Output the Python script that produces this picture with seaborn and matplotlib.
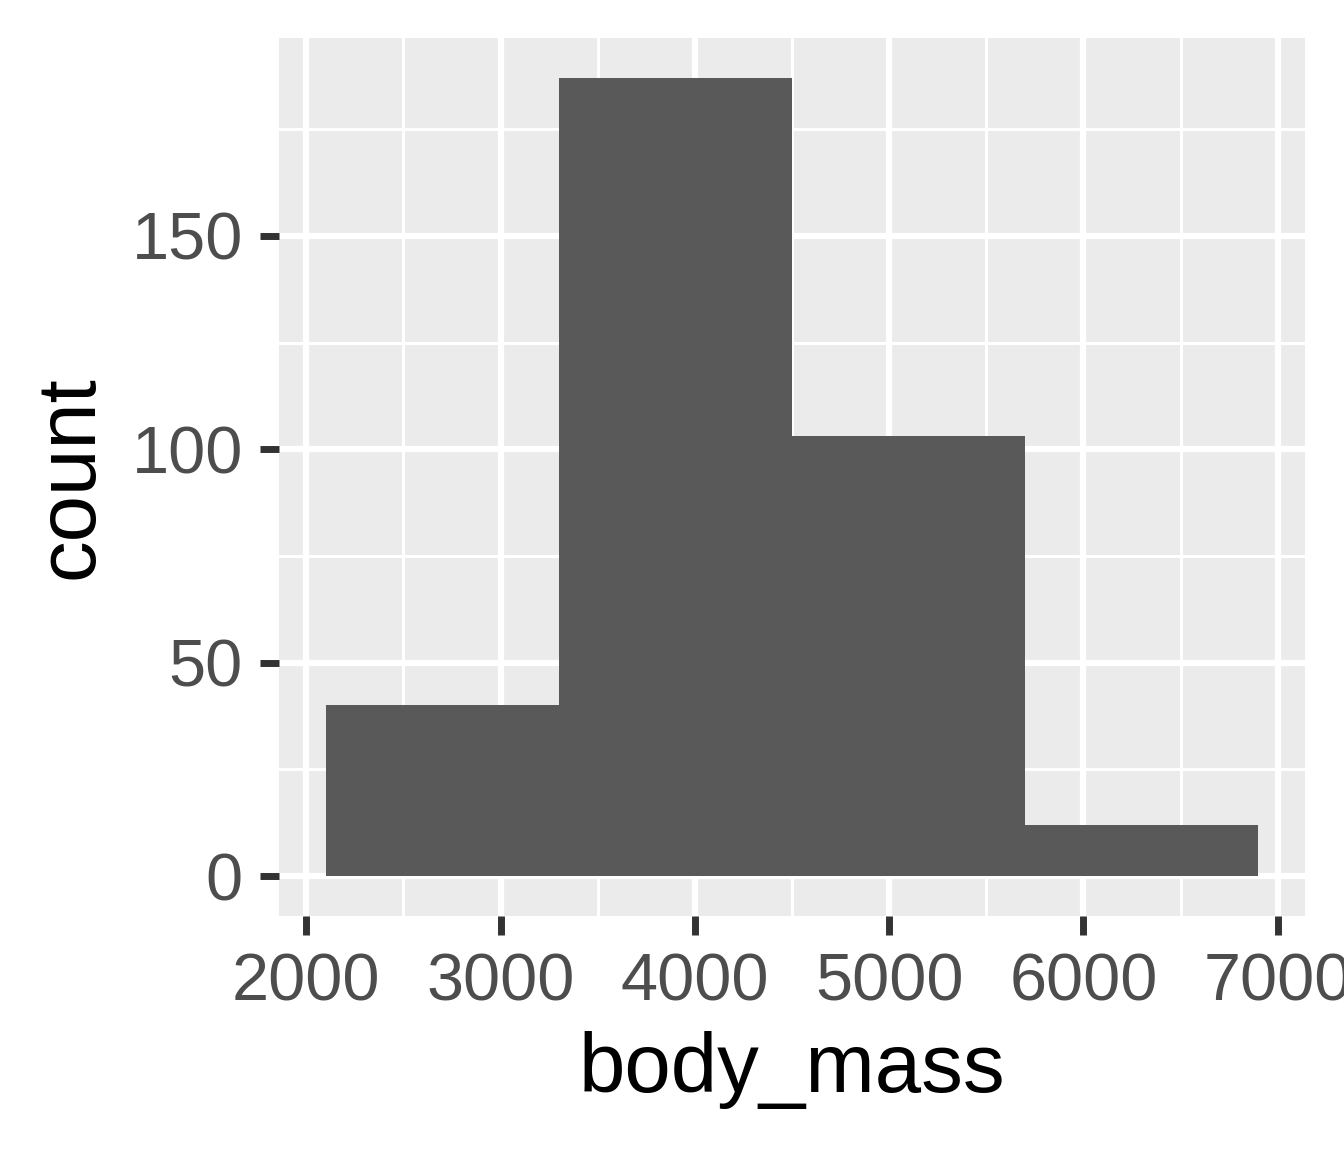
import numpy as np
import pandas as pd
import matplotlib
matplotlib.use("Agg")
import matplotlib.pyplot as plt
import seaborn as sns

# histogram of penguin body mass, 4 bins
bin_centers = [2700, 3900, 5100, 6300]
bin_edges = [2100, 3300, 4500, 5700, 6900]
counts = [40, 187, 103, 12]

x_ticks = [2000, 3000, 4000, 5000, 6000, 7000]
y_ticks = [0, 50, 100, 150]

df = pd.DataFrame({"body_mass": bin_centers, "count": counts})

sns.set_theme(style="darkgrid", rc={
    "axes.facecolor": "#EBEBEB",
    "grid.color": "white",
})
plt.rcParams["font.family"] = ["Liberation Sans", "DejaVu Sans"]

fig = plt.figure(figsize=(13.44, 11.52), dpi=100)
ax = fig.add_axes([279 / 1344, 1 - 916 / 1152, (1305 - 279) / 1344, (916 - 38) / 1152])

sns.histplot(data=df, x="body_mass", weights="count", bins=bin_edges,
             color="#595959", alpha=1, linewidth=0, ax=ax)

ax.set_xlim(1860, 7140)
ax.set_ylim(-9.35, 196.35)
ax.set_xticks(x_ticks)
ax.set_yticks(y_ticks)
ax.set_xticks([2500, 3500, 4500, 5500, 6500], minor=True)
ax.set_yticks([25, 75, 125, 175], minor=True)
ax.set_axisbelow(True)
ax.grid(which="major", color="white", linewidth=4.5)
ax.grid(which="minor", color="white", linewidth=2.2)

for s in ax.spines.values():
    s.set_visible(False)

ax.tick_params(axis="both", which="major", bottom=True, left=True, length=14, width=5,
               color="#333333", labelsize=48, labelcolor="#4D4D4D", pad=12)
ax.tick_params(axis="both", which="minor", length=0)

ax.set_xlabel("body_mass", fontsize=60, color="black", labelpad=12)
ax.set_ylabel("count", fontsize=60, color="black", labelpad=16)

fig.savefig("out.png", dpi=100, facecolor="white")
